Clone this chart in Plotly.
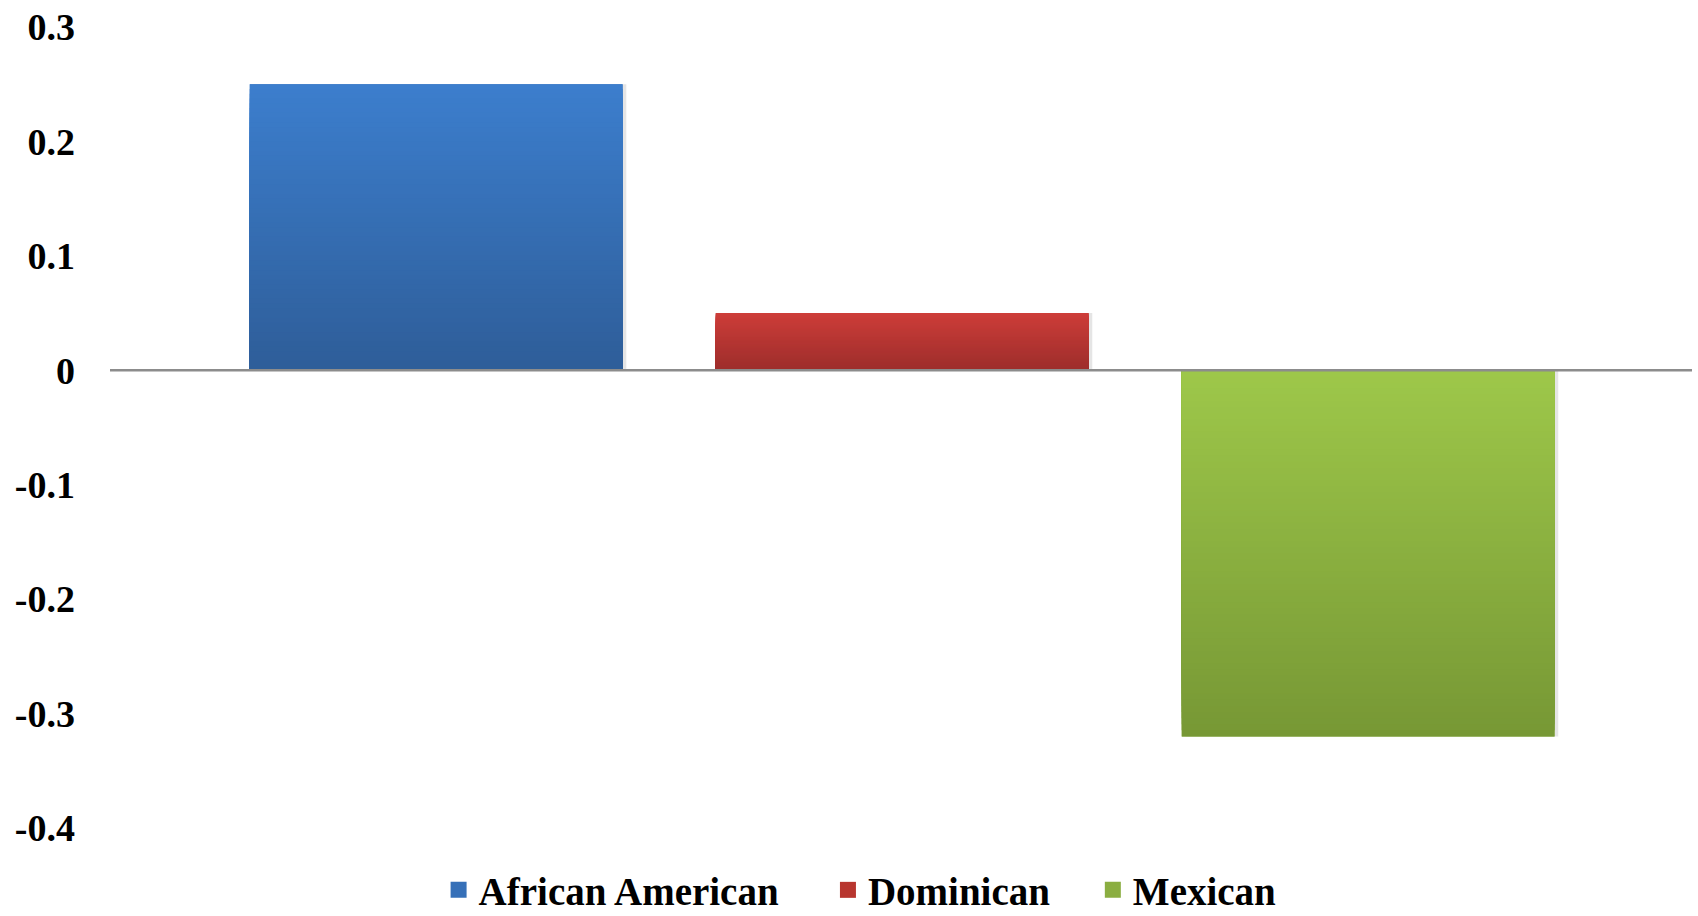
import plotly.graph_objects as go

# Group values
groups = ["African American", "Dominican", "Mexican"]
values = [0.25, 0.05, -0.32]

# Gradient end colours per group (top shade, bottom shade)
top_colors = ["#3C7ECD", "#CD3D39", "#9EC84A"]
bottom_colors = ["#2E5D98", "#9C2D2B", "#779835"]
legend_colors = ["#3670B8", "#B8362F", "#8BAE41"]

y_ticks = [0.3, 0.2, 0.1, 0, -0.1, -0.2, -0.3, -0.4]
y_tick_text = ["0.3", "0.2", "0.1", "0", "-0.1", "-0.2", "-0.3", "-0.4"]

# left edge (container fraction) of each legend entry
legend_x = [0.2583, 0.4876, 0.6436]

BAR_WIDTH = 0.8
N_SHADES = 60
SERIF = "Liberation Serif, Times New Roman, serif"


def hex_to_rgb(h):
    h = h.lstrip("#")
    return tuple(int(h[i:i + 2], 16) for i in (0, 2, 4))


def lerp(c1, c2, t):
    a, b = hex_to_rgb(c1), hex_to_rgb(c2)
    return "rgb(%d,%d,%d)" % tuple(round(a[i] + (b[i] - a[i]) * t) for i in range(3))


fig = go.Figure()

# soft drop shadow behind each bar
fig.add_trace(go.Bar(
    x=groups, y=values, width=BAR_WIDTH, offset=-BAR_WIDTH / 2 + 0.008,
    marker=dict(color="rgba(0,0,0,0.10)", line=dict(width=0)),
    showlegend=False, hoverinfo="skip",
))

# base bars
for g, v, c in zip(groups, values, legend_colors):
    fig.add_trace(go.Bar(
        x=[g], y=[v], name=g, width=BAR_WIDTH,
        marker=dict(color=c, line=dict(width=0)),
        showlegend=False,
    ))

# vertical gradient: progressively shorter overlays, lighter toward the top
for k in range(N_SHADES):
    frac = 1 - k / N_SHADES
    ys, cols = [], []
    for v, tc, bc in zip(values, top_colors, bottom_colors):
        ys.append(v * frac)
        if v >= 0:
            cols.append(lerp(bc, tc, frac))
        else:
            cols.append(lerp(tc, bc, frac))
    fig.add_trace(go.Bar(
        x=groups, y=ys, width=BAR_WIDTH,
        marker=dict(color=cols, line=dict(width=0)),
        showlegend=False, hoverinfo="skip",
    ))

# legend entries: square swatches, each in its own legend box
legend_names = ["legend", "legend2", "legend3"]
for g, c, lg in zip(groups, legend_colors, legend_names):
    fig.add_trace(go.Scatter(
        x=[None], y=[None], mode="markers", name=g, legend=lg,
        marker=dict(symbol="square", size=18, color=c),
    ))

# zero reference line across the plot
fig.add_shape(type="line", xref="paper", yref="y", x0=0, x1=1, y0=0, y1=0,
              line=dict(color="#8C8C8C", width=2.5), layer="above")

legend_font = dict(size=39, family=SERIF, color="black", weight="bold")
legend_common = dict(
    orientation="h", xref="container", yref="container",
    y=1 - 890 / 916, yanchor="middle", xanchor="left",
    font=legend_font, bgcolor="rgba(0,0,0,0)", itemsizing="trace",
)

fig.update_layout(
    width=1698, height=916,
    margin=dict(l=110, r=6, t=27, b=88),
    paper_bgcolor="white", plot_bgcolor="white",
    barmode="overlay",
    font=dict(family=SERIF, color="black"),
    showlegend=True,
    legend=dict(x=legend_x[0], **legend_common),
    legend2=dict(x=legend_x[1], **legend_common),
    legend3=dict(x=legend_x[2], **legend_common),
    xaxis=dict(
        range=[-0.70, 2.695], showticklabels=False, showgrid=False,
        zeroline=False, showline=False, ticks="",
    ),
    yaxis=dict(
        range=[-0.4, 0.3], tickvals=y_ticks, ticktext=y_tick_text,
        showgrid=False, zeroline=False, showline=False, ticks="",
        tickfont=dict(size=38, family=SERIF, color="black", weight="bold"),
        ticklabelstandoff=34,
    ),
)

fig.write_html("out.html")
